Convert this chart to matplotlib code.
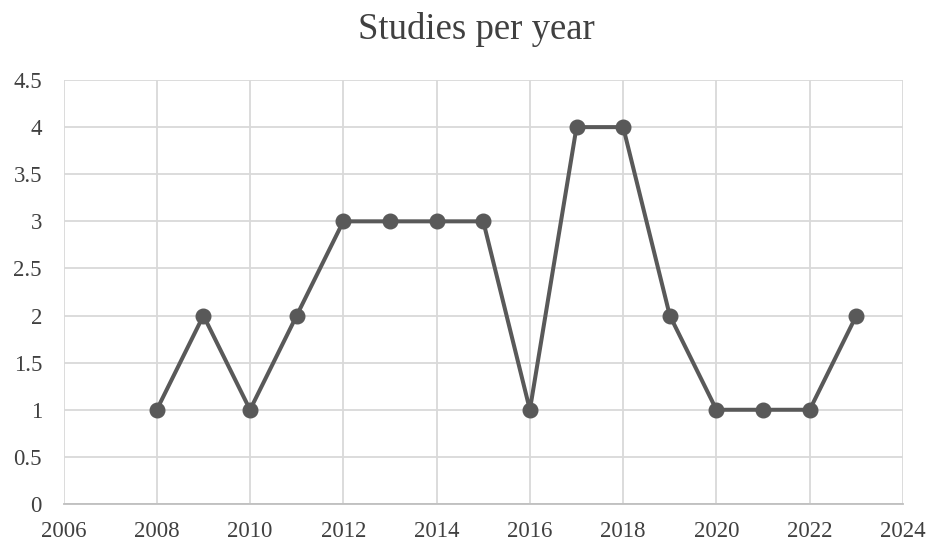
import matplotlib
matplotlib.use("Agg")
import matplotlib.pyplot as plt

years = [2008, 2009, 2010, 2011, 2012, 2013, 2014, 2015, 2016, 2017, 2018, 2019, 2020, 2021, 2022, 2023]
studies = [1, 2, 1, 2, 3, 3, 3, 3, 1, 4, 4, 2, 1, 1, 1, 2]
x_ticks = [2006, 2008, 2010, 2012, 2014, 2016, 2018, 2020, 2022, 2024]
y_ticks = [0, 0.5, 1, 1.5, 2, 2.5, 3, 3.5, 4, 4.5]
y_labels = ["0", "0.5", "1", "1.5", "2", "2.5", "3", "3.5", "4", "4.5"]
title = "Studies per year"

plt.rcParams['font.family'] = ['Liberation Serif', 'DejaVu Serif']

fig = plt.figure(figsize=(9.31, 5.48), dpi=100)
ax = fig.add_axes([63.5/931, 1 - 504/548, (903 - 63.5)/931, (504 - 80)/548])

ax.plot(years, studies, color='#595959', linewidth=2.9, marker='o', markersize=10.5,
        zorder=3, clip_on=False)

ax.set_xlim(2006, 2024)
ax.set_ylim(0, 4.5)
ax.set_xticks(x_ticks)
ax.set_yticks(y_ticks)
ax.set_yticklabels(y_labels)
ax.grid(True, color='#d9d9d9', linewidth=1.3)
ax.set_axisbelow(True)
for s in ['top', 'right', 'left']:
    ax.spines[s].set_visible(False)
ax.spines['bottom'].set_color('#bfbfbf')
ax.spines['bottom'].set_linewidth(1.3)
ax.tick_params(axis='both', length=0, labelsize=16.5, colors='#404040')
ax.tick_params(axis='x', pad=12)
ax.tick_params(axis='y', pad=15.5)

fig.text(476/931, 1 - 39/548, title, ha='center', va='baseline', fontsize=26.5, color='#404040')

fig.savefig("out.png", dpi=100)
